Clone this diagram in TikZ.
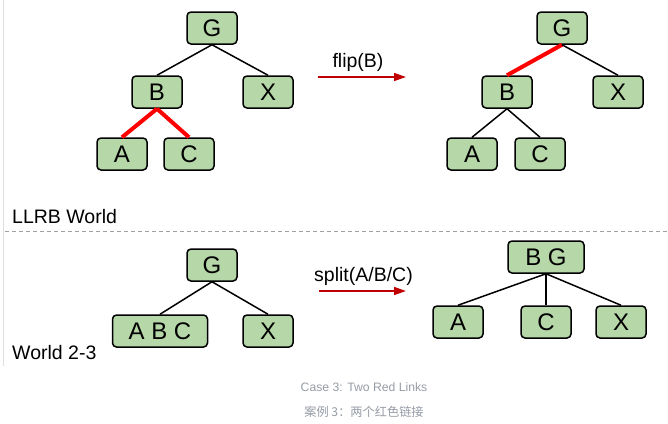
\documentclass[tikz,border=0pt]{standalone}
\usepackage{fontspec}
\setmainfont{Liberation Sans}
\newfontfamily\cjk{Noto Sans CJK SC}
\usepackage{tikz}
\usetikzlibrary{arrows.meta, positioning}
\definecolor{keyfill}{RGB}{182,215,168}
\definecolor{redlink}{RGB}{255,0,0}
\definecolor{arrred}{RGB}{192,0,0}
\definecolor{sepgray}{RGB}{160,160,160}
\definecolor{capgray}{RGB}{150,155,165}
\tikzset{
  key/.style={
    rectangle, rounded corners=4pt, minimum width=50pt,
    minimum height=32pt, inner sep=0pt, text centered,
    draw=black, line width=1.5pt, fill=keyfill,
    font=\fontsize{24}{28}\selectfont
  },
  wkey/.style={key, minimum width=#1},
  link/.style={line width=1.5pt, black},
  redlnk/.style={line width=4pt, redlink},
  op/.style={-{Triangle[length=12pt,width=8pt]}, line width=1.5pt, arrred},
  oplbl/.style={font=\fontsize{19.5}{23}\selectfont, text=black},
  world/.style={font=\fontsize{19.5}{23}\selectfont, anchor=west, inner sep=0pt},
  captxt/.style={font=\fontsize{12.2}{14}\selectfont, text=capgray}
}

\begin{document}
\begin{tikzpicture}[x=1pt, y=-1pt]
  \useasboundingbox (0,0) rectangle (668,423);

  %% ── frame ───────────────────────────────────────────────
  \draw[black!13, line width=1pt] (3,0) -- (3,366);
  \draw[sepgray, line width=1pt, dash pattern=on 4pt off 3pt] (5,231) -- (668,231);
  \node[world] (llrb)  at (12,217) {LLRB World};
  \node[world] (world) at (12,353) {World 2-3};

  %% ── LLRB: before flip ───────────────────────────────────
  \node[key] (g1) at (212,28)  {G};
  \node[key] (b1) at (157,92)  {B};
  \node[key] (x1) at (268,92)  {X};
  \node[key] (a1) at (122,154) {A};
  \node[key] (c1) at (189,154) {C};

  \draw[link]   (g1.south) -- (b1.north);
  \draw[link]   (g1.south) -- (x1.north);
  \draw[redlnk] (b1.south) -- (a1.north);
  \draw[redlnk] (b1.south) -- (c1.north);

  \coordinate (flipS) at (318,77);
  \coordinate (flipE) at (406,77);
  \draw[op] (flipS) -- node[oplbl, above=1pt, xshift=-4pt] (flip) {flip(B)} (flipE);

  %% ── LLRB: after flip ────────────────────────────────────
  \node[key] (g2) at (562,28)  {G};
  \node[key] (b2) at (507,92)  {B};
  \node[key] (x2) at (618,92)  {X};
  \node[key] (a2) at (472,154) {A};
  \node[key] (c2) at (540,154) {C};

  \draw[redlnk] (g2.south) -- (b2.north);
  \draw[link]   (g2.south) -- (x2.north);
  \draw[link]   (b2.south) -- (a2.north);
  \draw[link]   (b2.south) -- (c2.north);

  %% ── 2-3: before split ───────────────────────────────────
  \node[key]          (g3)   at (212,265) {G};
  \node[wkey=95pt]    (abc3) at (160,331) {A B C};
  \node[key]          (x3)   at (268,331) {X};

  \draw[link] (g3.south) -- (abc3.north);
  \draw[link] (g3.south) -- (x3.north);

  \coordinate (splitS) at (319,291);
  \coordinate (splitE) at (406,291);
  \draw[op] (splitS) -- node[oplbl, above=1pt, xshift=1pt] (split) {split(A/B/C)} (splitE);

  %% ── 2-3: after split ────────────────────────────────────
  \node[wkey=76pt]    (bg4) at (546,257) {B G};
  \node[key]          (a4)  at (458,322) {A};
  \node[key]          (c4)  at (546,322) {C};
  \node[key]          (x4)  at (621,322) {X};

  \draw[link] (bg4.south) -- (a4.north);
  \draw[link] (bg4.south) -- (c4.north);
  \draw[link] (bg4.south) -- (x4.north);

  %% ── caption ─────────────────────────────────────────────
  \node[captxt] (capen) at (364,387) {Case 3: Two Red Links};
  \node[captxt] (capzh) at (364,412) {\cjk 案例 3：两个红色链接};

\end{tikzpicture}
\end{document}
